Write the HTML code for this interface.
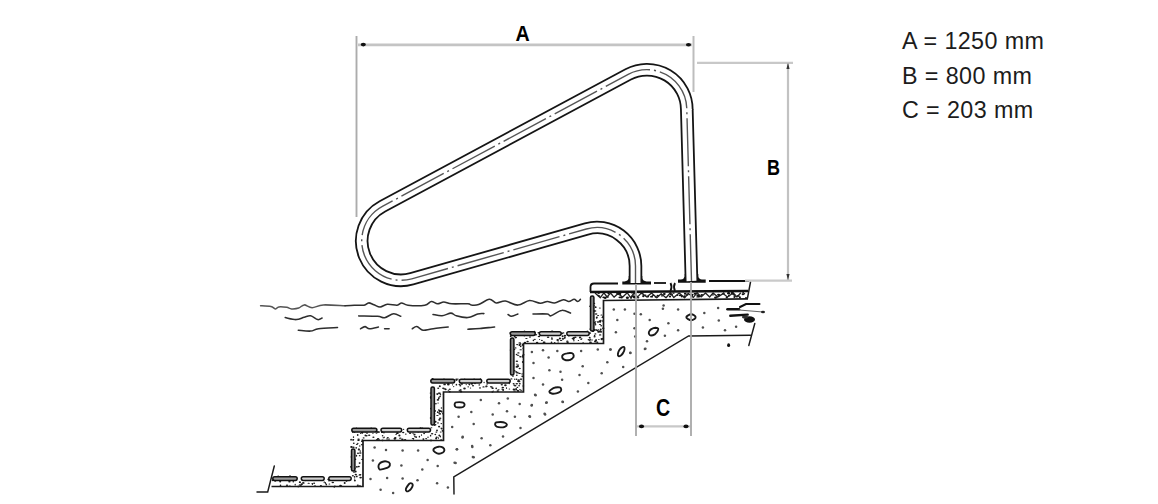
<!DOCTYPE html>
<html><head><meta charset="utf-8">
<style>
html,body{margin:0;padding:0;background:#fff;}
body{width:1158px;height:504px;overflow:hidden;position:relative;}
svg{position:absolute;left:0;top:0;}
.t{position:absolute;left:902px;font-family:"Liberation Sans",sans-serif;font-size:23.3px;color:#1c1c1c;white-space:nowrap;line-height:1;letter-spacing:0.4px;}
</style></head><body>
<svg width="1158" height="504" viewBox="0 0 1158 504">
<g fill="none" stroke="#2e2e2e" stroke-width="1.55" stroke-linecap="round" stroke-linejoin="round">
<path d="M260.6,305.7 C262.3,305.8 268.4,306.0 270.9,306.5 C273.4,307.0 274.3,308.8 275.6,308.9 C276.9,309.0 277.0,307.2 278.8,306.9 C280.6,306.6 284.6,307.0 286.7,307.3 C288.8,307.6 289.5,308.8 291.5,308.9 C293.5,309.0 296.6,308.8 298.7,308.1 C300.8,307.4 302.0,305.0 304.2,304.9 C306.4,304.8 308.9,307.7 312.1,307.7 C315.3,307.7 317.8,305.2 323.3,304.9 C328.8,304.6 341.4,305.6 345.0,305.7" stroke="#555"/>
<path d="M345.0,305.7 C346.6,305.6 351.1,305.3 354.3,305.2 C357.5,305.1 361.7,305.6 364.1,305.2 C366.5,304.8 367.0,303.0 368.6,302.9 C370.2,302.8 372.0,304.0 373.9,304.7 C375.8,305.4 378.0,307.1 380.2,307.0 C382.4,306.9 384.5,304.6 387.3,304.3 C390.1,304.0 394.7,305.4 397.1,305.2 C399.5,305.0 399.8,302.9 401.6,302.9 C403.4,302.9 404.0,304.8 407.9,305.2 C411.8,305.6 420.9,305.8 424.8,305.2 C428.7,304.6 429.2,301.7 431.3,301.5 C433.4,301.3 435.4,303.7 437.5,303.8 C439.6,303.9 441.4,302.0 443.8,302.0 C446.2,302.0 447.8,303.5 451.8,303.8 C455.8,304.1 464.6,303.6 467.9,303.8 C471.2,304.0 469.6,305.0 471.4,305.1 C473.2,305.2 475.6,305.6 478.6,304.6 C481.6,303.6 486.3,299.6 489.3,299.3 C492.3,299.0 493.7,302.6 496.4,302.9 C499.1,303.2 501.8,300.7 505.4,301.1 C509.0,301.5 513.9,305.2 517.9,305.1 C521.9,305.0 525.8,300.9 529.5,300.6 C533.2,300.3 537.2,303.2 540.2,303.3 C543.2,303.4 544.9,301.6 547.3,301.5 C549.7,301.4 551.8,303.2 554.5,302.9 C557.2,302.6 561.0,299.9 563.4,299.7 C565.8,299.5 567.0,301.6 568.8,301.5 C570.6,301.4 572.6,299.3 574.1,299.3 C575.6,299.3 576.7,301.5 577.7,301.5 C578.8,301.5 580.0,299.7 580.4,299.3"/>
<path d="M285.2,317.6 C287.1,317.9 293.1,319.7 296.3,319.6 C299.5,319.5 301.8,317.8 304.2,317.2 C306.6,316.6 308.4,315.4 310.6,315.8 C312.9,316.2 315.8,319.2 317.7,319.6 C319.6,320.0 321.4,318.3 322.1,318.0"/>
<path d="M358.8,315.9 C361.9,316.0 373.2,316.0 377.5,316.3 C381.8,316.6 381.9,318.1 384.6,317.7 C387.3,317.3 390.9,313.9 393.6,313.7 C396.3,313.5 399.5,315.9 400.7,316.3"/>
<path d="M433.0,314.5 C434.5,314.7 439.0,316.0 442.0,315.8 C445.0,315.6 448.5,313.1 450.9,313.1 C453.3,313.1 453.5,315.1 456.3,315.8 C459.1,316.6 464.3,317.9 467.9,317.6 C471.5,317.3 475.0,314.7 477.7,314.0 C480.4,313.3 482.9,313.7 483.9,313.6"/>
<path d="M508.0,314.5 C508.6,314.8 510.0,316.4 511.6,316.3 C513.2,316.2 516.9,314.4 517.9,314.0"/>
<path d="M533.0,314.0 C535.4,314.0 544.3,313.7 547.3,314.0 C550.3,314.3 548.5,316.4 550.9,315.8 C553.3,315.2 558.3,310.8 561.6,310.4 C564.9,309.9 569.0,312.7 570.5,313.1"/>
<path d="M298.3,330.3 C300.4,330.4 307.2,331.4 310.6,331.1 C314.0,330.8 314.0,329.3 318.5,328.7 C323.0,328.1 334.3,327.7 337.5,327.5"/>
<path d="M360.5,328.8 C361.2,328.4 363.5,326.6 365.0,326.6 C366.5,326.6 367.3,328.7 369.5,328.8 C371.7,328.9 376.9,327.4 378.4,327.1"/>
<path d="M384.6,328.8 C385.4,328.8 388.4,328.8 389.1,328.8"/>
<path d="M412.3,328.8 C413.1,328.4 415.0,326.4 416.8,326.6 C418.6,326.8 420.8,329.8 423.0,330.2 C425.2,330.6 427.4,329.7 430.0,329.3 C432.6,328.9 435.4,328.3 438.4,327.9 C441.4,327.5 446.6,327.1 448.2,327.0"/>
<path d="M467.9,329.2 C469.9,329.1 475.6,328.9 480.0,328.5 C484.4,328.1 492.2,327.2 494.6,327.0"/>
</g>
<polygon points="748.0,291.0 590.0,291.0 590.0,331.0 510.0,331.0 510.0,379.0 430.0,379.0 430.0,428.0 351.0,428.0 351.0,476.0 272.0,476.0 271.5,487.0 363.0,487.0 363.0,440.5 443.5,440.5 443.5,392.0 523.5,392.0 523.5,343.5 603.5,343.5 603.5,301.0 748.0,299.5" fill="#fff"/>
<g fill="#1a1a1a"><ellipse cx="593.5" cy="311.0" rx="1.3" ry="0.9"/><ellipse cx="493.3" cy="391.0" rx="0.7" ry="0.6"/><ellipse cx="282.0" cy="477.9" rx="1.0" ry="0.6"/><ellipse cx="394.6" cy="429.8" rx="1.3" ry="0.7"/><ellipse cx="356.2" cy="447.8" rx="0.8" ry="0.9"/><ellipse cx="438.1" cy="403.1" rx="0.7" ry="0.5"/><ellipse cx="439.8" cy="386.2" rx="1.0" ry="1.0"/><ellipse cx="461.0" cy="391.6" rx="1.3" ry="0.9"/><ellipse cx="516.9" cy="364.1" rx="0.7" ry="0.7"/><ellipse cx="301.7" cy="484.2" rx="1.2" ry="1.0"/><ellipse cx="522.3" cy="345.3" rx="0.7" ry="0.6"/><ellipse cx="517.4" cy="387.4" rx="0.9" ry="0.6"/><ellipse cx="443.1" cy="380.6" rx="0.8" ry="0.5"/><ellipse cx="514.7" cy="336.3" rx="0.9" ry="1.0"/><ellipse cx="413.0" cy="438.5" rx="1.3" ry="0.6"/><ellipse cx="461.7" cy="383.9" rx="1.3" ry="0.9"/><ellipse cx="432.3" cy="379.2" rx="1.1" ry="0.6"/><ellipse cx="511.8" cy="339.2" rx="1.3" ry="0.7"/><ellipse cx="359.5" cy="475.1" rx="1.2" ry="0.5"/><ellipse cx="396.1" cy="434.3" rx="0.8" ry="0.6"/><ellipse cx="513.0" cy="344.0" rx="1.2" ry="0.8"/><ellipse cx="581.8" cy="338.8" rx="0.6" ry="0.7"/><ellipse cx="594.6" cy="335.4" rx="0.8" ry="0.6"/><ellipse cx="518.0" cy="372.3" rx="0.7" ry="0.6"/><ellipse cx="484.1" cy="382.5" rx="0.6" ry="0.8"/><ellipse cx="511.4" cy="371.3" rx="1.3" ry="0.6"/><ellipse cx="512.4" cy="360.3" rx="0.6" ry="0.6"/><ellipse cx="351.5" cy="447.0" rx="0.7" ry="0.8"/><ellipse cx="320.9" cy="485.7" rx="1.1" ry="0.7"/><ellipse cx="552.0" cy="339.0" rx="1.1" ry="0.7"/><ellipse cx="431.0" cy="440.4" rx="1.1" ry="0.9"/><ellipse cx="405.8" cy="434.1" rx="0.9" ry="0.7"/><ellipse cx="436.4" cy="432.1" rx="1.0" ry="0.6"/><ellipse cx="319.6" cy="480.0" rx="0.7" ry="0.7"/><ellipse cx="473.0" cy="385.7" rx="1.1" ry="0.7"/><ellipse cx="371.2" cy="428.3" rx="0.9" ry="0.9"/><ellipse cx="329.4" cy="484.1" rx="0.9" ry="0.5"/><ellipse cx="378.1" cy="438.9" rx="1.3" ry="0.8"/><ellipse cx="439.4" cy="419.8" rx="1.2" ry="0.9"/><ellipse cx="276.5" cy="478.0" rx="1.1" ry="0.6"/><ellipse cx="351.1" cy="466.8" rx="1.1" ry="0.9"/><ellipse cx="365.1" cy="429.9" rx="1.0" ry="0.9"/><ellipse cx="514.6" cy="391.1" rx="1.3" ry="0.5"/><ellipse cx="445.7" cy="389.3" rx="1.0" ry="0.9"/><ellipse cx="511.3" cy="351.5" rx="1.0" ry="1.0"/><ellipse cx="595.8" cy="340.5" rx="1.1" ry="0.7"/><ellipse cx="578.4" cy="340.5" rx="0.7" ry="0.5"/><ellipse cx="329.0" cy="480.7" rx="0.7" ry="0.9"/><ellipse cx="419.4" cy="436.7" rx="0.7" ry="0.9"/><ellipse cx="299.9" cy="482.2" rx="1.1" ry="0.9"/><ellipse cx="357.2" cy="431.4" rx="0.9" ry="0.8"/><ellipse cx="287.0" cy="485.2" rx="1.2" ry="0.7"/><ellipse cx="328.2" cy="479.4" rx="0.8" ry="0.8"/><ellipse cx="594.2" cy="303.3" rx="1.1" ry="0.6"/><ellipse cx="325.5" cy="483.0" rx="0.6" ry="0.9"/><ellipse cx="589.8" cy="340.3" rx="1.0" ry="0.6"/><ellipse cx="356.9" cy="444.3" rx="1.1" ry="0.6"/><ellipse cx="359.7" cy="455.7" rx="0.9" ry="0.6"/><ellipse cx="424.1" cy="433.3" rx="0.9" ry="0.9"/><ellipse cx="456.4" cy="379.2" rx="1.2" ry="0.8"/><ellipse cx="519.2" cy="381.7" rx="1.3" ry="0.6"/><ellipse cx="367.0" cy="433.1" rx="0.9" ry="0.8"/><ellipse cx="439.1" cy="426.6" rx="1.1" ry="0.9"/><ellipse cx="486.7" cy="386.2" rx="1.1" ry="0.6"/><ellipse cx="509.3" cy="383.6" rx="0.7" ry="0.7"/><ellipse cx="441.6" cy="411.6" rx="0.9" ry="1.0"/><ellipse cx="417.3" cy="429.5" rx="0.6" ry="0.7"/><ellipse cx="589.7" cy="337.6" rx="1.0" ry="0.8"/><ellipse cx="439.3" cy="435.4" rx="0.9" ry="1.0"/><ellipse cx="511.8" cy="343.3" rx="0.9" ry="0.6"/><ellipse cx="561.1" cy="340.5" rx="1.3" ry="0.6"/><ellipse cx="355.5" cy="459.3" rx="0.8" ry="0.8"/><ellipse cx="443.4" cy="394.1" rx="0.8" ry="0.5"/><ellipse cx="571.0" cy="334.8" rx="0.7" ry="1.0"/><ellipse cx="575.5" cy="334.4" rx="1.2" ry="0.8"/><ellipse cx="516.8" cy="383.8" rx="1.3" ry="0.7"/><ellipse cx="365.0" cy="431.5" rx="0.9" ry="0.6"/><ellipse cx="351.4" cy="446.9" rx="1.2" ry="0.9"/><ellipse cx="599.2" cy="331.4" rx="0.9" ry="1.0"/><ellipse cx="516.5" cy="379.3" rx="0.9" ry="0.7"/><ellipse cx="351.1" cy="439.7" rx="0.9" ry="0.9"/><ellipse cx="409.3" cy="428.8" rx="0.9" ry="0.6"/><ellipse cx="358.0" cy="453.2" rx="1.1" ry="0.7"/><ellipse cx="487.1" cy="383.9" rx="1.0" ry="0.7"/><ellipse cx="580.1" cy="337.6" rx="1.2" ry="1.0"/><ellipse cx="426.9" cy="440.4" rx="1.1" ry="0.7"/><ellipse cx="430.6" cy="393.0" rx="1.0" ry="0.6"/><ellipse cx="535.9" cy="334.8" rx="1.3" ry="0.7"/><ellipse cx="324.2" cy="482.2" rx="0.6" ry="1.0"/><ellipse cx="596.7" cy="317.8" rx="0.9" ry="1.0"/><ellipse cx="599.9" cy="308.0" rx="1.0" ry="0.6"/><ellipse cx="280.5" cy="485.3" rx="0.8" ry="0.9"/><ellipse cx="356.4" cy="428.5" rx="0.7" ry="0.9"/><ellipse cx="439.7" cy="393.3" rx="1.3" ry="0.7"/><ellipse cx="520.0" cy="389.7" rx="0.8" ry="0.6"/><ellipse cx="353.2" cy="453.9" rx="0.9" ry="0.8"/><ellipse cx="519.4" cy="345.2" rx="0.9" ry="0.7"/><ellipse cx="491.6" cy="387.0" rx="1.2" ry="0.7"/><ellipse cx="430.5" cy="397.4" rx="0.6" ry="1.0"/><ellipse cx="514.7" cy="379.2" rx="0.6" ry="0.7"/><ellipse cx="492.4" cy="392.0" rx="1.0" ry="0.7"/><ellipse cx="410.1" cy="433.2" rx="1.2" ry="0.8"/><ellipse cx="555.4" cy="334.5" rx="1.3" ry="0.8"/><ellipse cx="598.2" cy="329.8" rx="0.6" ry="0.8"/><ellipse cx="594.8" cy="322.3" rx="1.2" ry="0.6"/><ellipse cx="389.0" cy="439.1" rx="0.7" ry="0.9"/><ellipse cx="587.3" cy="331.5" rx="0.7" ry="1.0"/><ellipse cx="512.7" cy="369.2" rx="0.7" ry="0.7"/><ellipse cx="278.2" cy="476.5" rx="1.0" ry="0.9"/><ellipse cx="518.1" cy="355.3" rx="1.3" ry="0.5"/><ellipse cx="387.8" cy="437.5" rx="1.1" ry="0.6"/><ellipse cx="433.0" cy="411.6" rx="1.2" ry="0.9"/><ellipse cx="354.6" cy="476.8" rx="0.9" ry="0.9"/><ellipse cx="523.5" cy="354.6" rx="1.1" ry="0.6"/><ellipse cx="359.6" cy="463.1" rx="1.0" ry="0.8"/><ellipse cx="363.6" cy="437.9" rx="1.0" ry="0.7"/><ellipse cx="365.3" cy="431.9" rx="0.7" ry="0.6"/><ellipse cx="360.2" cy="451.1" rx="0.7" ry="0.8"/><ellipse cx="581.1" cy="339.5" rx="0.9" ry="0.6"/><ellipse cx="519.1" cy="385.7" rx="0.9" ry="0.8"/><ellipse cx="356.8" cy="476.4" rx="0.9" ry="0.9"/><ellipse cx="586.4" cy="334.6" rx="0.7" ry="0.5"/><ellipse cx="333.0" cy="480.1" rx="0.9" ry="0.9"/><ellipse cx="443.3" cy="388.3" rx="1.3" ry="0.8"/><ellipse cx="362.4" cy="440.3" rx="1.0" ry="1.0"/><ellipse cx="277.0" cy="477.4" rx="0.8" ry="0.7"/><ellipse cx="567.3" cy="341.2" rx="1.2" ry="0.6"/><ellipse cx="434.7" cy="425.4" rx="0.6" ry="0.7"/><ellipse cx="328.5" cy="479.6" rx="0.7" ry="0.6"/><ellipse cx="543.0" cy="334.8" rx="1.1" ry="0.6"/><ellipse cx="579.9" cy="334.5" rx="1.3" ry="0.9"/><ellipse cx="464.7" cy="379.3" rx="0.7" ry="0.8"/><ellipse cx="440.7" cy="432.0" rx="0.9" ry="0.6"/><ellipse cx="593.4" cy="330.9" rx="0.9" ry="1.0"/><ellipse cx="551.9" cy="337.9" rx="0.6" ry="0.8"/><ellipse cx="353.6" cy="430.4" rx="0.6" ry="0.6"/><ellipse cx="397.5" cy="433.3" rx="1.3" ry="0.5"/><ellipse cx="431.0" cy="398.2" rx="0.8" ry="0.7"/><ellipse cx="362.2" cy="432.6" rx="1.2" ry="0.9"/><ellipse cx="421.5" cy="435.1" rx="0.6" ry="0.8"/><ellipse cx="519.7" cy="368.5" rx="1.1" ry="0.8"/><ellipse cx="589.9" cy="342.3" rx="0.8" ry="0.7"/><ellipse cx="448.3" cy="384.1" rx="1.3" ry="1.0"/><ellipse cx="315.9" cy="480.2" rx="0.6" ry="0.6"/><ellipse cx="353.8" cy="443.3" rx="0.9" ry="0.7"/><ellipse cx="394.8" cy="438.8" rx="1.3" ry="1.0"/><ellipse cx="353.4" cy="439.5" rx="0.9" ry="0.6"/><ellipse cx="518.3" cy="391.0" rx="0.9" ry="0.9"/><ellipse cx="588.5" cy="339.7" rx="0.9" ry="0.7"/><ellipse cx="377.1" cy="439.5" rx="1.2" ry="0.6"/><ellipse cx="428.0" cy="437.2" rx="0.7" ry="0.8"/><ellipse cx="339.3" cy="478.9" rx="1.3" ry="0.8"/><ellipse cx="517.5" cy="333.6" rx="1.1" ry="1.0"/><ellipse cx="440.1" cy="418.2" rx="1.3" ry="0.7"/><ellipse cx="437.9" cy="399.9" rx="1.3" ry="0.8"/><ellipse cx="438.4" cy="438.1" rx="0.6" ry="0.8"/><ellipse cx="595.7" cy="307.2" rx="0.9" ry="0.9"/><ellipse cx="595.1" cy="311.0" rx="1.3" ry="0.8"/><ellipse cx="492.6" cy="388.2" rx="1.1" ry="0.9"/><ellipse cx="552.1" cy="331.2" rx="1.3" ry="0.7"/><ellipse cx="442.9" cy="413.5" rx="0.8" ry="1.0"/><ellipse cx="534.9" cy="339.3" rx="1.0" ry="0.6"/><ellipse cx="356.5" cy="455.8" rx="0.7" ry="1.0"/><ellipse cx="516.9" cy="361.2" rx="1.3" ry="0.7"/><ellipse cx="514.6" cy="332.3" rx="1.1" ry="0.7"/><ellipse cx="590.9" cy="342.4" rx="0.9" ry="0.8"/><ellipse cx="437.0" cy="430.4" rx="0.9" ry="0.9"/><ellipse cx="551.5" cy="342.4" rx="0.8" ry="0.8"/><ellipse cx="511.4" cy="378.9" rx="1.1" ry="0.6"/><ellipse cx="514.7" cy="370.8" rx="0.8" ry="0.7"/><ellipse cx="480.5" cy="379.3" rx="0.8" ry="1.0"/><ellipse cx="568.9" cy="336.0" rx="0.6" ry="0.8"/><ellipse cx="326.3" cy="484.5" rx="0.8" ry="0.9"/><ellipse cx="447.0" cy="381.5" rx="1.0" ry="0.6"/><ellipse cx="563.4" cy="332.9" rx="1.0" ry="0.7"/><ellipse cx="543.6" cy="342.3" rx="0.9" ry="0.9"/><ellipse cx="444.6" cy="384.4" rx="1.3" ry="0.9"/><ellipse cx="405.1" cy="439.5" rx="1.2" ry="0.6"/><ellipse cx="436.7" cy="437.2" rx="1.1" ry="0.7"/><ellipse cx="365.4" cy="435.4" rx="0.9" ry="0.9"/><ellipse cx="527.6" cy="341.5" rx="1.2" ry="0.7"/><ellipse cx="448.3" cy="390.3" rx="0.6" ry="0.8"/><ellipse cx="600.7" cy="329.5" rx="1.0" ry="0.9"/><ellipse cx="305.7" cy="477.3" rx="1.0" ry="0.7"/><ellipse cx="520.4" cy="356.8" rx="1.3" ry="0.7"/><ellipse cx="518.7" cy="380.1" rx="1.3" ry="0.9"/><ellipse cx="414.8" cy="434.1" rx="0.6" ry="0.7"/><ellipse cx="562.9" cy="338.9" rx="1.3" ry="0.8"/><ellipse cx="564.9" cy="337.1" rx="0.9" ry="0.9"/><ellipse cx="360.6" cy="477.6" rx="1.3" ry="0.9"/><ellipse cx="541.9" cy="340.4" rx="0.9" ry="0.6"/><ellipse cx="362.2" cy="432.7" rx="1.0" ry="0.9"/><ellipse cx="483.5" cy="386.9" rx="1.2" ry="0.7"/><ellipse cx="572.3" cy="333.3" rx="1.3" ry="0.6"/><ellipse cx="379.0" cy="432.1" rx="1.0" ry="0.8"/><ellipse cx="517.1" cy="372.7" rx="0.9" ry="0.9"/><ellipse cx="420.6" cy="428.1" rx="1.1" ry="0.9"/><ellipse cx="466.2" cy="384.6" rx="0.6" ry="0.7"/><ellipse cx="516.6" cy="354.5" rx="0.9" ry="0.7"/><ellipse cx="352.9" cy="475.7" rx="1.0" ry="0.8"/><ellipse cx="539.6" cy="339.5" rx="0.6" ry="0.6"/><ellipse cx="583.1" cy="342.7" rx="0.6" ry="0.7"/><ellipse cx="539.0" cy="336.5" rx="1.3" ry="0.8"/><ellipse cx="381.8" cy="432.0" rx="0.8" ry="0.9"/><ellipse cx="590.1" cy="339.3" rx="1.0" ry="0.8"/><ellipse cx="353.5" cy="437.1" rx="0.7" ry="0.9"/><ellipse cx="360.5" cy="433.3" rx="0.6" ry="0.6"/><ellipse cx="523.0" cy="333.4" rx="1.2" ry="0.5"/><ellipse cx="422.4" cy="428.3" rx="0.9" ry="0.9"/><ellipse cx="298.2" cy="486.6" rx="0.7" ry="1.0"/><ellipse cx="414.9" cy="436.6" rx="0.8" ry="0.8"/><ellipse cx="474.1" cy="379.4" rx="0.9" ry="0.8"/><ellipse cx="459.5" cy="384.5" rx="1.0" ry="0.7"/><ellipse cx="357.7" cy="434.9" rx="0.8" ry="1.0"/><ellipse cx="538.3" cy="332.8" rx="0.8" ry="0.8"/><ellipse cx="442.5" cy="430.9" rx="0.9" ry="0.8"/><ellipse cx="431.4" cy="427.8" rx="1.0" ry="0.5"/><ellipse cx="312.4" cy="484.2" rx="0.6" ry="0.8"/><ellipse cx="514.6" cy="334.4" rx="1.3" ry="0.6"/><ellipse cx="516.1" cy="389.6" rx="1.0" ry="0.9"/><ellipse cx="599.7" cy="321.2" rx="1.1" ry="0.9"/><ellipse cx="460.8" cy="390.1" rx="0.8" ry="1.0"/><ellipse cx="416.1" cy="437.1" rx="1.0" ry="0.9"/><ellipse cx="432.1" cy="433.8" rx="1.2" ry="0.7"/><ellipse cx="522.9" cy="356.9" rx="1.1" ry="0.8"/><ellipse cx="564.9" cy="335.6" rx="1.2" ry="0.9"/><ellipse cx="400.3" cy="438.2" rx="1.3" ry="0.6"/><ellipse cx="437.6" cy="412.2" rx="0.7" ry="0.9"/><ellipse cx="354.9" cy="480.6" rx="1.0" ry="0.9"/><ellipse cx="383.9" cy="432.8" rx="1.1" ry="0.5"/><ellipse cx="602.3" cy="321.0" rx="0.8" ry="0.7"/><ellipse cx="389.2" cy="429.4" rx="1.3" ry="0.7"/><ellipse cx="572.7" cy="338.6" rx="1.2" ry="0.7"/><ellipse cx="521.0" cy="379.3" rx="0.9" ry="1.0"/><ellipse cx="303.3" cy="482.9" rx="1.3" ry="0.9"/><ellipse cx="517.2" cy="344.6" rx="1.2" ry="0.6"/><ellipse cx="369.2" cy="435.3" rx="1.2" ry="0.8"/><ellipse cx="526.0" cy="332.5" rx="0.8" ry="0.6"/><ellipse cx="376.5" cy="433.0" rx="1.0" ry="0.7"/><ellipse cx="437.1" cy="394.0" rx="1.0" ry="0.7"/><ellipse cx="423.4" cy="439.1" rx="1.0" ry="0.9"/><ellipse cx="288.2" cy="479.1" rx="1.0" ry="0.8"/><ellipse cx="456.4" cy="384.7" rx="0.8" ry="0.9"/><ellipse cx="446.8" cy="381.8" rx="1.0" ry="1.0"/><ellipse cx="575.6" cy="334.7" rx="1.0" ry="0.7"/><ellipse cx="525.0" cy="342.5" rx="1.2" ry="0.7"/><ellipse cx="513.9" cy="389.5" rx="1.3" ry="0.9"/><ellipse cx="545.7" cy="334.8" rx="0.8" ry="0.6"/><ellipse cx="519.9" cy="335.0" rx="1.1" ry="0.6"/><ellipse cx="289.8" cy="486.2" rx="1.3" ry="0.8"/><ellipse cx="441.7" cy="428.7" rx="1.0" ry="0.7"/><ellipse cx="456.5" cy="380.1" rx="1.1" ry="0.8"/><ellipse cx="444.6" cy="388.9" rx="1.3" ry="0.6"/><ellipse cx="307.8" cy="477.7" rx="0.9" ry="0.7"/><ellipse cx="515.7" cy="347.9" rx="0.8" ry="0.6"/><ellipse cx="332.8" cy="482.5" rx="1.3" ry="0.8"/><ellipse cx="360.2" cy="474.7" rx="1.2" ry="0.7"/><ellipse cx="375.5" cy="431.5" rx="0.7" ry="0.8"/><ellipse cx="600.1" cy="321.7" rx="1.1" ry="1.0"/><ellipse cx="358.5" cy="440.4" rx="1.2" ry="0.7"/><ellipse cx="431.1" cy="396.6" rx="1.1" ry="0.7"/><ellipse cx="457.9" cy="379.1" rx="0.8" ry="0.7"/><ellipse cx="276.7" cy="480.0" rx="0.8" ry="0.8"/><ellipse cx="449.9" cy="389.2" rx="1.0" ry="0.8"/><ellipse cx="351.3" cy="456.9" rx="0.7" ry="0.7"/><ellipse cx="288.9" cy="478.7" rx="0.8" ry="0.5"/><ellipse cx="436.1" cy="438.4" rx="1.0" ry="1.0"/><ellipse cx="498.5" cy="389.7" rx="1.2" ry="0.5"/><ellipse cx="514.4" cy="349.3" rx="1.0" ry="0.6"/><ellipse cx="513.2" cy="341.1" rx="0.8" ry="0.9"/><ellipse cx="448.3" cy="384.8" rx="1.3" ry="0.8"/><ellipse cx="595.8" cy="321.5" rx="0.6" ry="0.6"/><ellipse cx="594.6" cy="336.7" rx="1.1" ry="0.7"/><ellipse cx="426.1" cy="438.6" rx="1.0" ry="0.6"/><ellipse cx="357.8" cy="485.2" rx="1.1" ry="0.8"/><ellipse cx="460.3" cy="385.8" rx="1.0" ry="0.8"/><ellipse cx="596.2" cy="329.8" rx="0.7" ry="0.7"/><ellipse cx="293.2" cy="478.6" rx="0.8" ry="1.0"/><ellipse cx="603.2" cy="328.2" rx="1.3" ry="0.8"/><ellipse cx="354.0" cy="472.1" rx="1.2" ry="0.6"/><ellipse cx="334.9" cy="486.3" rx="1.0" ry="0.8"/><ellipse cx="470.5" cy="388.0" rx="0.7" ry="0.5"/><ellipse cx="432.7" cy="379.1" rx="1.0" ry="1.0"/><ellipse cx="438.8" cy="398.3" rx="0.9" ry="1.0"/><ellipse cx="505.4" cy="385.3" rx="1.3" ry="1.0"/><ellipse cx="518.6" cy="332.2" rx="1.3" ry="0.5"/><ellipse cx="479.3" cy="384.9" rx="0.9" ry="0.7"/><ellipse cx="413.1" cy="433.3" rx="0.8" ry="0.5"/><ellipse cx="522.5" cy="355.7" rx="0.6" ry="0.8"/><ellipse cx="520.5" cy="343.3" rx="1.0" ry="0.5"/><ellipse cx="288.3" cy="480.0" rx="1.3" ry="0.5"/><ellipse cx="434.2" cy="413.7" rx="1.2" ry="0.7"/><ellipse cx="344.7" cy="483.0" rx="1.0" ry="0.9"/><ellipse cx="314.1" cy="483.3" rx="1.0" ry="0.7"/><ellipse cx="431.9" cy="421.8" rx="0.7" ry="0.7"/><ellipse cx="475.0" cy="383.3" rx="0.8" ry="0.9"/><ellipse cx="497.8" cy="391.1" rx="1.2" ry="0.9"/><ellipse cx="444.0" cy="379.1" rx="0.9" ry="0.7"/><ellipse cx="299.9" cy="485.0" rx="1.2" ry="0.8"/><ellipse cx="441.4" cy="408.0" rx="0.7" ry="0.8"/><ellipse cx="275.2" cy="481.1" rx="1.1" ry="0.7"/><ellipse cx="590.5" cy="329.0" rx="0.6" ry="0.8"/><ellipse cx="600.4" cy="330.8" rx="0.9" ry="0.5"/><ellipse cx="435.4" cy="381.6" rx="0.9" ry="0.6"/><ellipse cx="523.0" cy="348.2" rx="0.7" ry="0.5"/><ellipse cx="305.2" cy="480.5" rx="0.7" ry="0.8"/><ellipse cx="330.7" cy="477.0" rx="1.1" ry="0.5"/><ellipse cx="598.5" cy="331.7" rx="1.3" ry="1.0"/><ellipse cx="603.0" cy="316.6" rx="0.9" ry="0.9"/><ellipse cx="437.4" cy="415.5" rx="1.3" ry="0.5"/><ellipse cx="387.6" cy="429.3" rx="1.2" ry="0.6"/><ellipse cx="597.0" cy="316.9" rx="0.8" ry="0.5"/><ellipse cx="440.4" cy="394.7" rx="0.8" ry="0.7"/><ellipse cx="425.5" cy="429.4" rx="1.0" ry="1.0"/><ellipse cx="428.0" cy="430.0" rx="0.8" ry="0.6"/><ellipse cx="399.4" cy="435.6" rx="1.1" ry="1.0"/><ellipse cx="379.2" cy="440.2" rx="0.9" ry="0.9"/><ellipse cx="598.0" cy="322.0" rx="0.9" ry="0.9"/><ellipse cx="435.9" cy="403.8" rx="0.9" ry="0.7"/><ellipse cx="595.4" cy="333.9" rx="1.0" ry="0.6"/><ellipse cx="433.7" cy="403.5" rx="1.3" ry="0.8"/><ellipse cx="439.9" cy="413.9" rx="1.3" ry="0.7"/><ellipse cx="544.5" cy="342.3" rx="1.1" ry="0.8"/><ellipse cx="402.4" cy="439.5" rx="1.2" ry="0.9"/><ellipse cx="438.8" cy="393.2" rx="1.0" ry="0.6"/><ellipse cx="480.0" cy="387.9" rx="1.1" ry="0.6"/><ellipse cx="366.5" cy="435.7" rx="1.2" ry="0.8"/><ellipse cx="513.1" cy="355.1" rx="0.6" ry="0.9"/><ellipse cx="515.2" cy="385.7" rx="1.3" ry="0.7"/><ellipse cx="337.7" cy="477.9" rx="1.2" ry="0.9"/><ellipse cx="382.6" cy="435.8" rx="0.8" ry="0.7"/><ellipse cx="430.7" cy="418.0" rx="0.9" ry="0.9"/><ellipse cx="521.3" cy="390.3" rx="1.1" ry="0.5"/><ellipse cx="434.9" cy="381.7" rx="1.2" ry="0.7"/><ellipse cx="520.7" cy="346.4" rx="0.8" ry="0.8"/><ellipse cx="373.4" cy="437.2" rx="1.1" ry="0.7"/><ellipse cx="595.3" cy="341.6" rx="1.3" ry="1.0"/><ellipse cx="384.2" cy="437.2" rx="0.6" ry="0.8"/><ellipse cx="358.9" cy="449.8" rx="1.2" ry="0.7"/><ellipse cx="472.2" cy="382.3" rx="0.7" ry="0.6"/><ellipse cx="533.4" cy="340.4" rx="0.8" ry="0.8"/><ellipse cx="353.4" cy="447.2" rx="1.3" ry="0.7"/><ellipse cx="438.8" cy="409.9" rx="0.8" ry="0.7"/><ellipse cx="362.2" cy="459.4" rx="1.0" ry="0.6"/><ellipse cx="362.9" cy="431.4" rx="1.1" ry="0.7"/><ellipse cx="431.9" cy="403.4" rx="1.1" ry="0.5"/><ellipse cx="432.4" cy="421.9" rx="1.1" ry="0.8"/><ellipse cx="534.9" cy="332.7" rx="0.8" ry="0.6"/><ellipse cx="595.2" cy="323.5" rx="1.0" ry="0.6"/><ellipse cx="432.3" cy="417.5" rx="0.9" ry="1.0"/><ellipse cx="474.4" cy="381.4" rx="0.8" ry="0.7"/><ellipse cx="403.2" cy="432.5" rx="1.2" ry="0.7"/><ellipse cx="459.3" cy="390.5" rx="0.6" ry="1.0"/><ellipse cx="600.4" cy="331.5" rx="0.8" ry="0.6"/><ellipse cx="441.3" cy="423.6" rx="0.8" ry="0.6"/><ellipse cx="387.2" cy="438.9" rx="1.1" ry="0.7"/><ellipse cx="290.0" cy="476.2" rx="0.9" ry="0.9"/><ellipse cx="413.4" cy="438.8" rx="0.7" ry="0.9"/><ellipse cx="511.8" cy="374.5" rx="1.1" ry="0.8"/><ellipse cx="516.8" cy="366.9" rx="1.3" ry="0.8"/><ellipse cx="433.8" cy="421.9" rx="0.7" ry="0.6"/><ellipse cx="435.3" cy="424.8" rx="1.2" ry="0.7"/><ellipse cx="502.1" cy="382.3" rx="1.0" ry="0.6"/><ellipse cx="354.7" cy="432.2" rx="0.6" ry="0.5"/><ellipse cx="594.5" cy="330.1" rx="1.3" ry="1.0"/><ellipse cx="595.5" cy="324.8" rx="0.9" ry="0.8"/><ellipse cx="592.6" cy="331.0" rx="0.9" ry="1.0"/><ellipse cx="437.6" cy="394.2" rx="0.7" ry="0.7"/><ellipse cx="524.0" cy="334.0" rx="0.8" ry="0.6"/><ellipse cx="598.1" cy="315.5" rx="1.1" ry="0.6"/><ellipse cx="397.2" cy="433.2" rx="1.0" ry="0.9"/><ellipse cx="357.8" cy="443.4" rx="0.7" ry="0.7"/><ellipse cx="590.3" cy="306.3" rx="1.3" ry="0.8"/><ellipse cx="353.1" cy="440.1" rx="0.8" ry="1.0"/><ellipse cx="524.3" cy="335.8" rx="0.7" ry="0.6"/><ellipse cx="358.8" cy="466.6" rx="1.0" ry="0.8"/><ellipse cx="431.4" cy="417.6" rx="0.8" ry="0.9"/><ellipse cx="439.0" cy="412.8" rx="0.8" ry="0.9"/><ellipse cx="597.3" cy="342.2" rx="1.1" ry="0.7"/><ellipse cx="524.5" cy="331.0" rx="0.8" ry="0.5"/><ellipse cx="510.4" cy="350.1" rx="0.7" ry="0.7"/><ellipse cx="501.8" cy="384.8" rx="1.2" ry="0.8"/><ellipse cx="519.7" cy="342.9" rx="1.3" ry="0.7"/><ellipse cx="500.6" cy="379.9" rx="1.2" ry="0.7"/><ellipse cx="561.9" cy="333.4" rx="1.0" ry="0.9"/><ellipse cx="572.0" cy="332.7" rx="0.6" ry="0.9"/><ellipse cx="516.8" cy="375.3" rx="0.9" ry="0.7"/><ellipse cx="515.8" cy="337.6" rx="1.3" ry="0.8"/><ellipse cx="453.7" cy="386.6" rx="0.6" ry="0.7"/><ellipse cx="452.5" cy="384.8" rx="0.6" ry="0.6"/><ellipse cx="564.7" cy="338.1" rx="1.0" ry="0.8"/><ellipse cx="356.9" cy="466.8" rx="1.0" ry="0.9"/><ellipse cx="510.3" cy="333.0" rx="0.8" ry="0.9"/><ellipse cx="592.0" cy="340.0" rx="0.7" ry="0.7"/><ellipse cx="308.7" cy="483.3" rx="1.2" ry="0.5"/><ellipse cx="534.6" cy="331.7" rx="0.8" ry="1.0"/><ellipse cx="559.9" cy="338.5" rx="1.1" ry="1.0"/><ellipse cx="355.6" cy="471.5" rx="1.1" ry="0.9"/><ellipse cx="490.8" cy="386.6" rx="0.6" ry="0.6"/><ellipse cx="509.4" cy="389.1" rx="0.8" ry="0.5"/><ellipse cx="597.2" cy="330.4" rx="1.1" ry="0.7"/><ellipse cx="289.4" cy="481.8" rx="1.3" ry="0.7"/><ellipse cx="589.8" cy="333.1" rx="1.3" ry="0.9"/><ellipse cx="530.0" cy="337.1" rx="0.8" ry="0.8"/><ellipse cx="518.1" cy="365.0" rx="0.7" ry="0.7"/><ellipse cx="435.3" cy="434.5" rx="0.9" ry="0.8"/><ellipse cx="397.7" cy="431.9" rx="0.9" ry="0.7"/><ellipse cx="435.5" cy="421.8" rx="1.1" ry="1.0"/><ellipse cx="537.1" cy="342.4" rx="1.3" ry="0.6"/><ellipse cx="590.2" cy="329.1" rx="1.0" ry="0.6"/><ellipse cx="596.1" cy="314.0" rx="1.3" ry="0.8"/><ellipse cx="438.2" cy="388.2" rx="1.0" ry="0.8"/><ellipse cx="562.6" cy="336.3" rx="1.0" ry="1.0"/><ellipse cx="438.0" cy="422.9" rx="0.9" ry="0.7"/><ellipse cx="554.7" cy="343.1" rx="0.8" ry="1.0"/><ellipse cx="523.4" cy="355.5" rx="0.9" ry="0.6"/><ellipse cx="481.1" cy="382.0" rx="0.6" ry="0.8"/><ellipse cx="601.8" cy="339.6" rx="1.2" ry="0.6"/><ellipse cx="358.6" cy="439.3" rx="1.3" ry="0.7"/><ellipse cx="286.8" cy="480.2" rx="1.1" ry="0.8"/><ellipse cx="471.9" cy="383.7" rx="1.2" ry="1.0"/><ellipse cx="354.8" cy="468.1" rx="1.3" ry="0.6"/><ellipse cx="293.3" cy="481.8" rx="0.8" ry="0.8"/><ellipse cx="573.5" cy="339.3" rx="0.9" ry="0.7"/><ellipse cx="600.7" cy="320.3" rx="0.9" ry="0.6"/><ellipse cx="395.3" cy="437.9" rx="1.2" ry="0.9"/><ellipse cx="382.5" cy="440.4" rx="1.2" ry="0.8"/><ellipse cx="372.9" cy="433.2" rx="0.7" ry="0.5"/><ellipse cx="518.2" cy="381.2" rx="1.2" ry="0.8"/><ellipse cx="510.7" cy="336.2" rx="0.9" ry="0.9"/><ellipse cx="570.8" cy="335.5" rx="1.1" ry="0.6"/><ellipse cx="300.9" cy="485.6" rx="0.9" ry="0.6"/><ellipse cx="502.8" cy="387.5" rx="1.3" ry="0.7"/><ellipse cx="601.2" cy="325.7" rx="0.9" ry="0.8"/><ellipse cx="573.8" cy="337.9" rx="1.3" ry="1.0"/><ellipse cx="573.9" cy="340.5" rx="0.6" ry="0.9"/><ellipse cx="601.7" cy="338.7" rx="1.2" ry="0.8"/><ellipse cx="520.5" cy="333.8" rx="0.9" ry="0.7"/><ellipse cx="439.3" cy="397.0" rx="0.9" ry="0.5"/><ellipse cx="522.6" cy="362.0" rx="0.7" ry="0.9"/><ellipse cx="548.1" cy="337.2" rx="1.3" ry="0.8"/><ellipse cx="418.2" cy="431.6" rx="0.9" ry="0.9"/><ellipse cx="557.7" cy="340.0" rx="1.3" ry="0.9"/><ellipse cx="562.2" cy="333.3" rx="0.7" ry="0.6"/><ellipse cx="280.3" cy="479.3" rx="0.8" ry="0.7"/><ellipse cx="601.5" cy="315.0" rx="1.1" ry="0.6"/><ellipse cx="441.2" cy="428.1" rx="0.7" ry="0.7"/><ellipse cx="440.4" cy="436.5" rx="0.6" ry="0.9"/><ellipse cx="382.1" cy="432.3" rx="1.0" ry="0.6"/><ellipse cx="312.3" cy="483.6" rx="0.9" ry="0.7"/><ellipse cx="362.0" cy="441.4" rx="1.0" ry="0.6"/><ellipse cx="531.0" cy="332.1" rx="1.3" ry="0.7"/><ellipse cx="520.7" cy="349.8" rx="1.3" ry="0.5"/><ellipse cx="519.8" cy="383.8" rx="1.0" ry="0.8"/><ellipse cx="359.8" cy="446.0" rx="0.7" ry="0.7"/><ellipse cx="519.5" cy="373.4" rx="1.3" ry="0.7"/><ellipse cx="464.5" cy="388.5" rx="1.3" ry="0.9"/><ellipse cx="435.8" cy="382.4" rx="0.9" ry="0.6"/><ellipse cx="598.9" cy="339.5" rx="0.7" ry="0.5"/><ellipse cx="522.7" cy="344.5" rx="1.0" ry="0.8"/><ellipse cx="603.0" cy="338.5" rx="1.0" ry="0.8"/><ellipse cx="469.4" cy="384.6" rx="1.0" ry="0.8"/><ellipse cx="522.5" cy="376.3" rx="1.3" ry="0.7"/><ellipse cx="512.9" cy="376.1" rx="1.1" ry="0.6"/><ellipse cx="592.5" cy="325.1" rx="1.2" ry="0.7"/><ellipse cx="440.1" cy="396.5" rx="0.8" ry="0.7"/><ellipse cx="403.6" cy="429.3" rx="0.7" ry="0.6"/><ellipse cx="435.0" cy="410.9" rx="1.0" ry="0.9"/><ellipse cx="295.2" cy="484.7" rx="0.6" ry="0.9"/><ellipse cx="359.8" cy="485.9" rx="1.3" ry="0.7"/><ellipse cx="519.9" cy="344.8" rx="1.2" ry="0.7"/><ellipse cx="364.4" cy="428.9" rx="1.2" ry="0.9"/><ellipse cx="569.8" cy="333.9" rx="0.9" ry="0.7"/><ellipse cx="272.9" cy="480.2" rx="1.1" ry="1.0"/><ellipse cx="449.6" cy="382.5" rx="1.0" ry="0.6"/><ellipse cx="526.4" cy="338.4" rx="1.2" ry="0.5"/><ellipse cx="441.2" cy="439.9" rx="1.2" ry="0.7"/><ellipse cx="363.0" cy="429.1" rx="0.6" ry="0.8"/><ellipse cx="334.3" cy="486.9" rx="0.8" ry="0.8"/><ellipse cx="600.1" cy="334.9" rx="1.3" ry="0.7"/><ellipse cx="516.1" cy="371.8" rx="0.9" ry="0.9"/><ellipse cx="361.9" cy="444.7" rx="1.1" ry="0.6"/><ellipse cx="425.4" cy="432.0" rx="0.7" ry="0.7"/><ellipse cx="514.3" cy="385.1" rx="1.2" ry="0.7"/><ellipse cx="360.3" cy="453.0" rx="1.3" ry="0.7"/><ellipse cx="503.1" cy="390.0" rx="1.0" ry="0.9"/><ellipse cx="358.9" cy="448.9" rx="0.8" ry="0.7"/><ellipse cx="354.0" cy="431.5" rx="1.0" ry="1.0"/><ellipse cx="468.2" cy="386.8" rx="0.8" ry="0.6"/><ellipse cx="513.6" cy="383.7" rx="1.0" ry="0.8"/><ellipse cx="486.1" cy="386.5" rx="0.8" ry="1.0"/><ellipse cx="430.9" cy="408.6" rx="0.9" ry="0.8"/><ellipse cx="518.4" cy="352.9" rx="1.2" ry="0.7"/><ellipse cx="440.0" cy="413.7" rx="0.7" ry="0.7"/><ellipse cx="601.0" cy="331.8" rx="1.2" ry="0.9"/><ellipse cx="600.0" cy="324.4" rx="1.2" ry="0.5"/><ellipse cx="275.5" cy="478.6" rx="0.9" ry="0.9"/><ellipse cx="602.6" cy="317.5" rx="1.3" ry="0.5"/><ellipse cx="567.6" cy="342.3" rx="1.2" ry="0.9"/><ellipse cx="517.6" cy="390.7" rx="0.7" ry="1.0"/><ellipse cx="354.6" cy="479.1" rx="0.7" ry="0.5"/><ellipse cx="454.0" cy="381.6" rx="1.1" ry="0.8"/><ellipse cx="377.8" cy="432.0" rx="1.1" ry="0.9"/><ellipse cx="556.5" cy="332.6" rx="1.1" ry="0.5"/><ellipse cx="414.4" cy="434.7" rx="1.2" ry="0.7"/><ellipse cx="522.1" cy="373.9" rx="0.8" ry="0.7"/><ellipse cx="409.3" cy="428.6" rx="0.9" ry="0.6"/><ellipse cx="506.5" cy="388.1" rx="0.6" ry="0.9"/><ellipse cx="341.0" cy="486.0" rx="1.3" ry="0.8"/><ellipse cx="340.4" cy="485.8" rx="1.2" ry="1.0"/><ellipse cx="594.1" cy="305.7" rx="0.8" ry="0.5"/><ellipse cx="354.1" cy="450.9" rx="1.0" ry="0.7"/><ellipse cx="516.1" cy="388.6" rx="0.9" ry="0.5"/><ellipse cx="492.3" cy="380.9" rx="1.0" ry="0.8"/><ellipse cx="352.7" cy="432.1" rx="0.6" ry="0.9"/><ellipse cx="596.1" cy="340.1" rx="0.8" ry="1.0"/><ellipse cx="315.0" cy="485.5" rx="0.7" ry="0.6"/><ellipse cx="502.5" cy="389.1" rx="1.3" ry="0.7"/><ellipse cx="451.9" cy="382.2" rx="0.9" ry="0.9"/><ellipse cx="517.7" cy="366.2" rx="1.3" ry="1.0"/><ellipse cx="523.3" cy="386.0" rx="0.9" ry="0.8"/><ellipse cx="383.5" cy="437.7" rx="1.0" ry="0.5"/><ellipse cx="346.5" cy="481.2" rx="0.8" ry="0.6"/><ellipse cx="440.2" cy="411.2" rx="1.3" ry="0.9"/><ellipse cx="444.6" cy="381.7" rx="0.7" ry="1.0"/><ellipse cx="361.1" cy="430.5" rx="0.9" ry="0.5"/><ellipse cx="423.7" cy="431.3" rx="1.1" ry="0.7"/><ellipse cx="280.2" cy="481.4" rx="1.0" ry="1.0"/><ellipse cx="355.8" cy="474.6" rx="1.2" ry="0.8"/><ellipse cx="496.2" cy="388.4" rx="0.8" ry="0.8"/><ellipse cx="409.6" cy="430.3" rx="1.1" ry="0.6"/><ellipse cx="345.7" cy="480.0" rx="1.0" ry="0.6"/><ellipse cx="373.8" cy="429.6" rx="1.3" ry="0.6"/><ellipse cx="430.6" cy="435.7" rx="0.7" ry="0.9"/><ellipse cx="575.3" cy="337.3" rx="1.3" ry="0.8"/><ellipse cx="431.8" cy="397.4" rx="0.7" ry="0.7"/><ellipse cx="439.5" cy="410.5" rx="0.8" ry="0.8"/><ellipse cx="439.6" cy="410.9" rx="1.2" ry="0.7"/><ellipse cx="449.6" cy="391.7" rx="1.0" ry="0.9"/><ellipse cx="558.1" cy="342.0" rx="0.6" ry="0.7"/></g>
<polyline points="748.0,298.8 603.5,300.5 603.5,343.5 523.5,343.5 523.5,392.0 443.5,392.0 443.5,440.5 363.0,440.5 363.0,486.5 271.5,486.5" fill="none" stroke="#1a1a1a" stroke-width="1.7"/>
<ellipse cx="698.1" cy="295.4" rx="1.62" ry="1.20" fill="#111"/>
<ellipse cx="742.9" cy="294.3" rx="1.25" ry="0.95" fill="#111"/>
<ellipse cx="627.4" cy="297.7" rx="1.57" ry="1.18" fill="#111"/>
<ellipse cx="653.1" cy="295.3" rx="1.32" ry="0.66" fill="#111"/>
<ellipse cx="633.5" cy="296.1" rx="1.73" ry="0.64" fill="#111"/>
<ellipse cx="645.3" cy="295.3" rx="1.21" ry="0.76" fill="#111"/>
<ellipse cx="620.3" cy="294.2" rx="0.86" ry="0.77" fill="#111"/>
<ellipse cx="603.7" cy="297.3" rx="1.45" ry="0.90" fill="#111"/>
<ellipse cx="643.3" cy="296.2" rx="1.14" ry="1.10" fill="#111"/>
<ellipse cx="723.4" cy="293.8" rx="1.32" ry="0.82" fill="#111"/>
<ellipse cx="744.4" cy="293.8" rx="0.84" ry="0.73" fill="#111"/>
<ellipse cx="738.1" cy="295.9" rx="1.53" ry="0.89" fill="#111"/>
<ellipse cx="701.8" cy="294.9" rx="1.33" ry="0.99" fill="#111"/>
<ellipse cx="715.5" cy="297.7" rx="1.44" ry="1.10" fill="#111"/>
<ellipse cx="618.7" cy="293.6" rx="1.71" ry="0.64" fill="#111"/>
<ellipse cx="664.3" cy="293.8" rx="1.35" ry="0.78" fill="#111"/>
<ellipse cx="732.5" cy="293.1" rx="1.63" ry="1.17" fill="#111"/>
<ellipse cx="656.0" cy="296.9" rx="1.42" ry="0.74" fill="#111"/>
<ellipse cx="673.5" cy="293.2" rx="1.11" ry="0.64" fill="#111"/>
<ellipse cx="621.6" cy="297.4" rx="1.31" ry="1.12" fill="#111"/>
<ellipse cx="664.3" cy="294.2" rx="1.29" ry="0.82" fill="#111"/>
<ellipse cx="743.2" cy="292.7" rx="1.00" ry="0.73" fill="#111"/>
<ellipse cx="671.8" cy="294.6" rx="0.92" ry="0.97" fill="#111"/>
<ellipse cx="729.0" cy="295.5" rx="1.14" ry="0.90" fill="#111"/>
<ellipse cx="631.7" cy="292.7" rx="1.10" ry="0.83" fill="#111"/>
<ellipse cx="712.8" cy="294.8" rx="1.67" ry="0.67" fill="#111"/>
<ellipse cx="642.0" cy="293.5" rx="1.59" ry="0.70" fill="#111"/>
<ellipse cx="680.1" cy="295.3" rx="1.53" ry="0.92" fill="#111"/>
<ellipse cx="638.1" cy="297.7" rx="1.28" ry="0.70" fill="#111"/>
<ellipse cx="677.3" cy="295.3" rx="0.90" ry="0.62" fill="#111"/>
<ellipse cx="670.0" cy="296.4" rx="1.16" ry="0.99" fill="#111"/>
<ellipse cx="633.6" cy="296.5" rx="1.59" ry="0.92" fill="#111"/>
<ellipse cx="734.7" cy="294.7" rx="1.18" ry="0.61" fill="#111"/>
<ellipse cx="651.6" cy="296.7" rx="1.57" ry="0.86" fill="#111"/>
<ellipse cx="662.0" cy="295.8" rx="0.85" ry="0.91" fill="#111"/>
<ellipse cx="723.6" cy="293.2" rx="0.88" ry="0.90" fill="#111"/>
<ellipse cx="687.4" cy="294.6" rx="1.22" ry="1.16" fill="#111"/>
<ellipse cx="746.0" cy="297.9" rx="0.97" ry="0.79" fill="#111"/>
<ellipse cx="634.5" cy="297.5" rx="1.42" ry="0.93" fill="#111"/>
<ellipse cx="607.3" cy="296.9" rx="1.78" ry="0.74" fill="#111"/>
<ellipse cx="638.5" cy="292.6" rx="1.64" ry="0.74" fill="#111"/>
<ellipse cx="619.9" cy="297.3" rx="1.47" ry="0.87" fill="#111"/>
<ellipse cx="631.1" cy="297.8" rx="1.14" ry="1.04" fill="#111"/>
<ellipse cx="691.9" cy="294.6" rx="1.77" ry="0.85" fill="#111"/>
<ellipse cx="633.5" cy="293.7" rx="0.84" ry="0.87" fill="#111"/>
<ellipse cx="736.4" cy="296.5" rx="1.15" ry="0.78" fill="#111"/>
<ellipse cx="717.0" cy="297.0" rx="1.11" ry="0.75" fill="#111"/>
<ellipse cx="634.2" cy="297.0" rx="1.28" ry="1.00" fill="#111"/>
<ellipse cx="697.6" cy="296.9" rx="1.34" ry="0.61" fill="#111"/>
<ellipse cx="695.3" cy="293.8" rx="1.65" ry="0.95" fill="#111"/>
<ellipse cx="699.2" cy="296.3" rx="1.65" ry="1.09" fill="#111"/>
<ellipse cx="734.4" cy="297.0" rx="1.05" ry="1.05" fill="#111"/>
<ellipse cx="647.8" cy="296.6" rx="1.36" ry="0.94" fill="#111"/>
<ellipse cx="608.3" cy="293.5" rx="0.93" ry="0.66" fill="#111"/>
<ellipse cx="726.8" cy="297.5" rx="1.15" ry="0.87" fill="#111"/>
<ellipse cx="681.8" cy="296.3" rx="0.89" ry="1.18" fill="#111"/>
<ellipse cx="598.7" cy="293.1" rx="1.52" ry="0.80" fill="#111"/>
<ellipse cx="691.8" cy="295.6" rx="1.28" ry="0.91" fill="#111"/>
<ellipse cx="718.6" cy="294.7" rx="1.57" ry="0.95" fill="#111"/>
<ellipse cx="729.4" cy="293.1" rx="1.10" ry="0.61" fill="#111"/>
<ellipse cx="598.4" cy="295.5" rx="1.26" ry="0.71" fill="#111"/>
<ellipse cx="617.8" cy="293.6" rx="1.69" ry="0.94" fill="#111"/>
<ellipse cx="657.8" cy="295.6" rx="1.23" ry="0.90" fill="#111"/>
<ellipse cx="605.2" cy="297.9" rx="1.38" ry="1.03" fill="#111"/>
<ellipse cx="731.7" cy="293.1" rx="0.86" ry="0.73" fill="#111"/>
<ellipse cx="620.1" cy="293.6" rx="1.19" ry="1.10" fill="#111"/>
<ellipse cx="684.6" cy="296.5" rx="1.30" ry="1.16" fill="#111"/>
<ellipse cx="728.5" cy="293.2" rx="1.47" ry="1.17" fill="#111"/>
<ellipse cx="719.3" cy="295.5" rx="1.20" ry="0.65" fill="#111"/>
<ellipse cx="635.6" cy="293.0" rx="0.87" ry="1.07" fill="#111"/>
<ellipse cx="671.1" cy="294.5" rx="1.51" ry="0.79" fill="#111"/>
<ellipse cx="733.9" cy="293.8" rx="1.00" ry="0.73" fill="#111"/>
<ellipse cx="739.9" cy="297.4" rx="1.00" ry="1.16" fill="#111"/>
<ellipse cx="599.2" cy="296.3" rx="1.26" ry="0.74" fill="#111"/>
<ellipse cx="685.2" cy="293.7" rx="1.33" ry="1.05" fill="#111"/>
<polyline points="595.0,293.1 600.3,297.7 603.9,292.9 607.1,297.0 610.5,293.0 614.0,297.2 617.8,293.7 622.8,297.0 627.2,292.7 630.6,297.6 634.0,293.0 637.7,296.9 641.4,292.9 646.8,296.9 651.5,292.9 656.8,297.7 661.2,293.7 666.0,297.7 670.4,292.7 673.8,297.6 679.2,293.1 684.5,297.7 688.4,293.5 693.4,297.4 697.1,292.7 701.1,296.9 705.5,293.0 709.6,297.0 713.1,292.9 717.9,296.9 723.1,293.6 727.4,297.0 732.1,293.7 737.1,296.9 740.8,292.7" fill="none" stroke="#222" stroke-width="1.3" stroke-linejoin="round"/>
<rect x="510.3" y="331.8" width="24.9" height="3.6" rx="1.8" fill="#9a9a9a" stroke="#111" stroke-width="1.5"/>
<rect x="539.3" y="331.8" width="21.9" height="3.6" rx="1.8" fill="#d0d0d0" stroke="#111" stroke-width="1.5"/>
<rect x="566.8" y="331.8" width="22.4" height="3.6" rx="1.8" fill="#d0d0d0" stroke="#111" stroke-width="1.5"/>
<rect x="430.8" y="379.3" width="23.9" height="3.6" rx="1.8" fill="#9a9a9a" stroke="#111" stroke-width="1.5"/>
<rect x="459.3" y="379.3" width="22.4" height="3.6" rx="1.8" fill="#d0d0d0" stroke="#111" stroke-width="1.5"/>
<rect x="486.8" y="379.3" width="23.4" height="3.6" rx="1.8" fill="#d0d0d0" stroke="#111" stroke-width="1.5"/>
<rect x="351.8" y="428.3" width="25.1" height="3.6" rx="1.8" fill="#9a9a9a" stroke="#111" stroke-width="1.5"/>
<rect x="381.0" y="428.3" width="20.7" height="3.6" rx="1.8" fill="#d0d0d0" stroke="#111" stroke-width="1.5"/>
<rect x="407.3" y="428.3" width="23.2" height="3.6" rx="1.8" fill="#d0d0d0" stroke="#111" stroke-width="1.5"/>
<rect x="272.8" y="476.8" width="24.4" height="3.6" rx="1.8" fill="#9a9a9a" stroke="#111" stroke-width="1.5"/>
<rect x="301.3" y="476.8" width="22.9" height="3.6" rx="1.8" fill="#d0d0d0" stroke="#111" stroke-width="1.5"/>
<rect x="328.8" y="476.8" width="22.4" height="3.6" rx="1.8" fill="#d0d0d0" stroke="#111" stroke-width="1.5"/>
<rect x="590.5" y="296.0" width="3.4" height="35.0" rx="1.5" fill="#888" stroke="#111" stroke-width="1.5"/>
<rect x="510.5" y="338.0" width="3.4" height="37.0" rx="1.5" fill="#888" stroke="#111" stroke-width="1.5"/>
<rect x="431.0" y="387.0" width="3.4" height="38.0" rx="1.5" fill="#888" stroke="#111" stroke-width="1.5"/>
<rect x="351.5" y="449.0" width="3.4" height="22.0" rx="1.5" fill="#888" stroke="#111" stroke-width="1.5"/>
<g fill="none" stroke="#111" stroke-width="1.8">
<path d="M618,283.5 H594 Q590.5,283.5 590.5,287 V292"/>
<path d="M654,283 H666"/>
<path d="M670.5,283 q2,4 0,8 M675,283 q-2,4 0,8"/>
<path d="M709,281 H749"/>
</g>
<path d="M590,292 L748,291" stroke="#111" stroke-width="2.4"/>
<path d="M622.3,284.6 H651 V281.4 H646.5 Q643,281 642.3,278.2 V276 H628.7 V278.2 Q628,281 624.5,281.4 H622.3 Z" fill="#111"/>
<path d="M678,282.8 H705.7 V279.5 H702 Q698.8,279.2 698.3,276.5 V274 H684.7 V276.5 Q684,279.2 681,279.5 H678 Z" fill="#111"/>
<g fill="none" stroke="#1a1a1a" stroke-width="1.45" stroke-linecap="round">
<path d="M454,494 L453.8,476.8 L688.6,336 L750.5,335.2"/>
<path d="M750.5,282 L747.5,298"/>
<path d="M754.8,323.5 L748.8,345.5"/>
<path d="M274.3,466 L267.7,492 H257"/>
</g>
<g stroke="#111" stroke-linecap="round" fill="none">
<path d="M740,307 L746,304 H759.5" stroke-width="2"/>
<path d="M727.5,309.2 H739" stroke-width="2.6"/>
<path d="M739,310 L763,312" stroke-width="1.2" stroke="#666"/>
<path d="M730.3,315.8 L747.7,314.6" stroke-width="2.4"/>
</g>
<ellipse cx="763" cy="312" rx="2" ry="1.2" fill="#222"/>
<ellipse cx="749.5" cy="319.5" rx="5.5" ry="3.2" fill="#111"/>
<ellipse cx="745" cy="317" rx="3" ry="1.5" fill="#333"/>
<ellipse cx="728.6" cy="345.2" rx="1.5" ry="1.9" fill="#111"/>
<path d="M4.4,0.0 C4.5,0.6 4.0,1.5 3.2,2.0 C2.5,2.5 1.1,3.1 0.0,3.1 C-1.1,3.1 -2.3,2.5 -3.1,2.0 C-4.0,1.4 -5.0,0.6 -4.9,0.0 C-4.9,-0.6 -3.7,-1.3 -2.9,-1.8 C-2.1,-2.3 -1.0,-2.9 -0.0,-2.9 C1.0,-2.9 2.2,-2.3 2.9,-1.8 C3.6,-1.3 4.4,-0.6 4.4,0.0Z" transform="translate(691.2 317.1) rotate(0)" fill="#fff" stroke="#1a1a1a" stroke-width="1.9"/>
<path d="M5.8,0.0 C5.7,0.7 4.6,1.4 3.6,2.0 C2.6,2.5 1.3,3.1 0.0,3.2 C-1.3,3.2 -3.2,2.7 -4.0,2.2 C-4.8,1.7 -4.9,0.7 -4.8,0.0 C-4.8,-0.7 -4.4,-1.4 -3.6,-2.0 C-2.8,-2.5 -1.3,-3.1 -0.0,-3.1 C1.3,-3.2 3.0,-2.7 4.0,-2.2 C4.9,-1.6 5.9,-0.7 5.8,0.0Z" transform="translate(653.2 331.6) rotate(-30)" fill="#fff" stroke="#1a1a1a" stroke-width="1.9"/>
<path d="M5.3,0.0 C5.2,0.5 4.3,1.1 3.4,1.5 C2.6,1.9 1.2,2.1 0.0,2.1 C-1.2,2.2 -2.8,1.9 -3.6,1.6 C-4.5,1.2 -5.3,0.6 -5.4,0.0 C-5.4,-0.6 -4.8,-1.3 -3.9,-1.7 C-3.0,-2.1 -1.3,-2.6 -0.0,-2.6 C1.3,-2.6 3.1,-2.2 4.0,-1.7 C4.9,-1.3 5.3,-0.5 5.3,0.0Z" transform="translate(621.4 351.6) rotate(-58)" fill="#fff" stroke="#1a1a1a" stroke-width="1.9"/>
<path d="M6.2,0.0 C6.2,0.9 5.4,1.9 4.4,2.5 C3.3,3.1 1.4,3.7 0.0,3.6 C-1.4,3.6 -2.9,2.8 -3.8,2.2 C-4.7,1.6 -5.3,0.8 -5.4,0.0 C-5.5,-0.8 -5.3,-1.9 -4.4,-2.5 C-3.5,-3.1 -1.5,-3.4 -0.0,-3.4 C1.5,-3.5 3.7,-3.3 4.8,-2.7 C5.8,-2.1 6.3,-0.9 6.2,0.0Z" transform="translate(567.6 356.7) rotate(-10)" fill="#fff" stroke="#1a1a1a" stroke-width="1.9"/>
<path d="M5.6,0.0 C5.6,0.7 5.0,1.6 4.1,2.1 C3.2,2.6 1.4,2.9 0.0,2.9 C-1.4,3.0 -3.4,2.8 -4.4,2.3 C-5.5,1.8 -6.6,0.7 -6.5,0.0 C-6.4,-0.7 -4.9,-1.5 -3.8,-2.0 C-2.8,-2.5 -1.4,-3.0 -0.0,-3.0 C1.4,-3.1 3.5,-2.8 4.5,-2.3 C5.4,-1.8 5.7,-0.7 5.6,0.0Z" transform="translate(555.7 390.5) rotate(-10)" fill="#fff" stroke="#1a1a1a" stroke-width="1.9"/>
<path d="M5.2,0.0 C5.2,0.7 4.5,1.8 3.7,2.2 C2.8,2.7 1.2,2.7 0.0,2.7 C-1.2,2.7 -2.8,2.6 -3.6,2.2 C-4.4,1.7 -4.8,0.7 -4.8,0.0 C-4.8,-0.7 -4.6,-1.8 -3.8,-2.3 C-3.0,-2.7 -1.3,-2.7 -0.0,-2.7 C1.3,-2.7 2.9,-2.7 3.7,-2.2 C4.6,-1.8 5.2,-0.7 5.2,0.0Z" transform="translate(459.4 404.8) rotate(0)" fill="#fff" stroke="#1a1a1a" stroke-width="1.9"/>
<path d="M6.3,0.0 C6.3,0.7 5.2,1.7 4.1,2.1 C3.1,2.6 1.3,2.7 0.0,2.7 C-1.3,2.7 -2.9,2.4 -3.8,2.0 C-4.8,1.5 -5.4,0.7 -5.5,0.0 C-5.6,-0.7 -5.3,-1.8 -4.4,-2.3 C-3.5,-2.7 -1.4,-2.7 -0.0,-2.7 C1.4,-2.6 2.9,-2.5 3.9,-2.0 C5.0,-1.6 6.2,-0.7 6.3,0.0Z" transform="translate(500.6 424.7) rotate(0)" fill="#fff" stroke="#1a1a1a" stroke-width="1.9"/>
<path d="M5.7,0.0 C5.6,0.8 5.1,1.8 4.2,2.4 C3.2,3.0 1.3,3.7 0.0,3.6 C-1.3,3.6 -2.7,2.7 -3.6,2.1 C-4.5,1.5 -5.4,0.7 -5.4,0.0 C-5.5,-0.7 -4.6,-1.6 -3.7,-2.2 C-2.8,-2.7 -1.3,-3.3 -0.0,-3.4 C1.3,-3.5 3.4,-3.1 4.3,-2.5 C5.2,-1.9 5.7,-0.8 5.7,0.0Z" transform="translate(438.7 450.1) rotate(0)" fill="#fff" stroke="#1a1a1a" stroke-width="1.9"/>
<path d="M6.5,0.0 C6.5,0.9 5.6,2.2 4.5,2.8 C3.4,3.3 1.6,3.4 0.0,3.4 C-1.6,3.4 -3.9,3.5 -4.8,3.0 C-5.7,2.4 -5.4,0.9 -5.3,0.0 C-5.1,-0.9 -4.8,-1.8 -3.9,-2.4 C-3.1,-3.1 -1.4,-3.8 -0.0,-3.8 C1.4,-3.9 3.4,-3.4 4.4,-2.7 C5.5,-2.1 6.5,-0.9 6.5,0.0Z" transform="translate(383.6 465.4) rotate(-15)" fill="#fff" stroke="#1a1a1a" stroke-width="1.9"/>
<path d="M4.7,0.0 C4.7,0.6 4.4,1.4 3.6,1.8 C2.8,2.2 1.1,2.4 0.0,2.4 C-1.1,2.4 -2.5,2.0 -3.3,1.6 C-4.1,1.2 -4.6,0.6 -4.6,0.0 C-4.7,-0.6 -4.2,-1.3 -3.4,-1.7 C-2.6,-2.1 -1.2,-2.2 -0.0,-2.2 C1.2,-2.2 2.8,-2.2 3.6,-1.8 C4.4,-1.5 4.7,-0.6 4.7,0.0Z" transform="translate(409.2 487.4) rotate(-55)" fill="#fff" stroke="#1a1a1a" stroke-width="1.9"/>
<circle cx="613.8" cy="309.5" r="1.25" fill="#505050"/>
<circle cx="624.9" cy="309.5" r="1.25" fill="#505050"/>
<circle cx="617.3" cy="319.9" r="1.25" fill="#505050"/>
<circle cx="615.9" cy="332.3" r="1.25" fill="#505050"/>
<circle cx="640.8" cy="314.3" r="1.25" fill="#505050"/>
<circle cx="634.5" cy="313.7" r="1.25" fill="#505050"/>
<circle cx="634.5" cy="328.2" r="1.25" fill="#505050"/>
<circle cx="635.2" cy="336.5" r="1.25" fill="#505050"/>
<circle cx="662.9" cy="308.8" r="1.25" fill="#505050"/>
<circle cx="663.6" cy="305.4" r="1.25" fill="#505050"/>
<circle cx="678.1" cy="309.5" r="1.25" fill="#505050"/>
<circle cx="649.7" cy="319.9" r="1.25" fill="#505050"/>
<circle cx="668.4" cy="323.3" r="1.25" fill="#505050"/>
<circle cx="678.1" cy="330.2" r="1.25" fill="#505050"/>
<circle cx="664.9" cy="335.8" r="1.25" fill="#505050"/>
<circle cx="647" cy="341.3" r="1.25" fill="#505050"/>
<circle cx="644.9" cy="348.9" r="1.25" fill="#505050"/>
<circle cx="610.4" cy="349.6" r="1.25" fill="#505050"/>
<circle cx="630.4" cy="353" r="1.25" fill="#505050"/>
<circle cx="718.1" cy="308.1" r="1.25" fill="#505050"/>
<circle cx="704.3" cy="313" r="1.25" fill="#505050"/>
<circle cx="718.8" cy="320.6" r="1.25" fill="#505050"/>
<circle cx="702.9" cy="327.5" r="1.25" fill="#505050"/>
<circle cx="725" cy="330.2" r="1.25" fill="#505050"/>
<circle cx="736.1" cy="326.8" r="1.25" fill="#505050"/>
<circle cx="531.9" cy="351.9" r="1.25" fill="#505050"/>
<circle cx="543" cy="350.3" r="1.25" fill="#505050"/>
<circle cx="557.3" cy="351.1" r="1.25" fill="#505050"/>
<circle cx="581.1" cy="351.1" r="1.25" fill="#505050"/>
<circle cx="597.8" cy="349.5" r="1.25" fill="#505050"/>
<circle cx="610.5" cy="349.5" r="1.25" fill="#505050"/>
<circle cx="630.3" cy="352.7" r="1.25" fill="#505050"/>
<circle cx="645.4" cy="348.7" r="1.25" fill="#505050"/>
<circle cx="548.6" cy="357.5" r="1.25" fill="#505050"/>
<circle cx="533.5" cy="363" r="1.25" fill="#505050"/>
<circle cx="582.7" cy="366.2" r="1.25" fill="#505050"/>
<circle cx="607.3" cy="362.2" r="1.25" fill="#505050"/>
<circle cx="549.4" cy="370.2" r="1.25" fill="#505050"/>
<circle cx="560.5" cy="371.7" r="1.25" fill="#505050"/>
<circle cx="579.5" cy="374.9" r="1.25" fill="#505050"/>
<circle cx="601.7" cy="373.3" r="1.25" fill="#505050"/>
<circle cx="623.2" cy="367" r="1.25" fill="#505050"/>
<circle cx="533.5" cy="378.1" r="1.25" fill="#505050"/>
<circle cx="562.1" cy="379.7" r="1.25" fill="#505050"/>
<circle cx="588.3" cy="382.9" r="1.25" fill="#505050"/>
<circle cx="543" cy="384.4" r="1.25" fill="#505050"/>
<circle cx="535.1" cy="394.8" r="1.25" fill="#505050"/>
<circle cx="577.9" cy="391.6" r="1.25" fill="#505050"/>
<circle cx="546.2" cy="402.7" r="1.25" fill="#505050"/>
<circle cx="562.9" cy="401.9" r="1.25" fill="#505050"/>
<circle cx="531.9" cy="405.1" r="1.25" fill="#505050"/>
<circle cx="544.6" cy="413.8" r="1.25" fill="#505050"/>
<circle cx="529.5" cy="416.2" r="1.25" fill="#505050"/>
<circle cx="480.8" cy="400.1" r="1.25" fill="#505050"/>
<circle cx="507.8" cy="398.5" r="1.25" fill="#505050"/>
<circle cx="499" cy="403.3" r="1.25" fill="#505050"/>
<circle cx="519.7" cy="404" r="1.25" fill="#505050"/>
<circle cx="535.6" cy="395.3" r="1.25" fill="#505050"/>
<circle cx="531.6" cy="405.6" r="1.25" fill="#505050"/>
<circle cx="546.7" cy="402.5" r="1.25" fill="#505050"/>
<circle cx="562.5" cy="401.7" r="1.25" fill="#505050"/>
<circle cx="471.3" cy="412" r="1.25" fill="#505050"/>
<circle cx="492.7" cy="414.4" r="1.25" fill="#505050"/>
<circle cx="507" cy="411.2" r="1.25" fill="#505050"/>
<circle cx="514.9" cy="416.7" r="1.25" fill="#505050"/>
<circle cx="530" cy="416.7" r="1.25" fill="#505050"/>
<circle cx="545.1" cy="414.4" r="1.25" fill="#505050"/>
<circle cx="458.6" cy="416.7" r="1.25" fill="#505050"/>
<circle cx="473.7" cy="423.9" r="1.25" fill="#505050"/>
<circle cx="452.2" cy="427.1" r="1.25" fill="#505050"/>
<circle cx="520.5" cy="427.9" r="1.25" fill="#505050"/>
<circle cx="462.5" cy="437.4" r="1.25" fill="#505050"/>
<circle cx="481.6" cy="438.2" r="1.25" fill="#505050"/>
<circle cx="503" cy="436.6" r="1.25" fill="#505050"/>
<circle cx="472.1" cy="446.1" r="1.25" fill="#505050"/>
<circle cx="490.3" cy="445.3" r="1.25" fill="#505050"/>
<circle cx="457" cy="449.3" r="1.25" fill="#505050"/>
<circle cx="473.7" cy="457.2" r="1.25" fill="#505050"/>
<circle cx="454.6" cy="462.8" r="1.25" fill="#505050"/>
<circle cx="374.6" cy="447.5" r="1.25" fill="#505050"/>
<circle cx="386" cy="449.9" r="1.25" fill="#505050"/>
<circle cx="402.6" cy="450.5" r="1.25" fill="#505050"/>
<circle cx="418.1" cy="450.5" r="1.25" fill="#505050"/>
<circle cx="372.9" cy="460.6" r="1.25" fill="#505050"/>
<circle cx="401.4" cy="465.4" r="1.25" fill="#505050"/>
<circle cx="427.6" cy="460" r="1.25" fill="#505050"/>
<circle cx="422.3" cy="469.5" r="1.25" fill="#505050"/>
<circle cx="437.7" cy="466" r="1.25" fill="#505050"/>
<circle cx="455.6" cy="463" r="1.25" fill="#505050"/>
<circle cx="456.8" cy="449.3" r="1.25" fill="#505050"/>
<circle cx="462.7" cy="436.8" r="1.25" fill="#505050"/>
<circle cx="472.3" cy="446.9" r="1.25" fill="#505050"/>
<circle cx="472.9" cy="457" r="1.25" fill="#505050"/>
<circle cx="370.5" cy="479" r="1.25" fill="#505050"/>
<circle cx="387.1" cy="477.9" r="1.25" fill="#505050"/>
<circle cx="402.6" cy="478.5" r="1.25" fill="#505050"/>
<circle cx="417.5" cy="480.2" r="1.25" fill="#505050"/>
<circle cx="437.1" cy="483.2" r="1.25" fill="#505050"/>
<circle cx="447.9" cy="487.4" r="1.25" fill="#505050"/>
<circle cx="380.6" cy="489.8" r="1.25" fill="#505050"/>
<circle cx="393.1" cy="493.1" r="1.25" fill="#505050"/>
<line x1="636" y1="284" x2="636" y2="436" stroke="#a8a8a8" stroke-width="1.8"/>
<line x1="691" y1="282" x2="691" y2="436" stroke="#a8a8a8" stroke-width="1.8"/>
<g fill="none" stroke-linecap="butt">
<line x1="356.5" y1="36" x2="356.5" y2="217" stroke="#acacac" stroke-width="1.9"/>
<line x1="358" y1="44.9" x2="692" y2="44.9" stroke="#c4c4c4" stroke-width="2.6"/>
<line x1="693.5" y1="36" x2="693.5" y2="92" stroke="#bdbdbd" stroke-width="2"/>
<line x1="697" y1="62.8" x2="793" y2="62.8" stroke="#c8c8c8" stroke-width="2.2"/>
<line x1="788" y1="63" x2="788" y2="280" stroke="#c2c2c2" stroke-width="2.2"/>
<line x1="745" y1="280.6" x2="792" y2="280.6" stroke="#cacaca" stroke-width="2.2"/>
<line x1="637" y1="426.4" x2="690" y2="426.4" stroke="#c8c8c8" stroke-width="2.2"/>
</g>
<ellipse cx="363.3" cy="44.6" rx="2.6" ry="1.8" fill="#111"/>
<ellipse cx="688.5" cy="44.7" rx="2.6" ry="1.8" fill="#111"/>
<ellipse cx="641.5" cy="426.4" rx="2.6" ry="1.8" fill="#111"/>
<ellipse cx="686" cy="426.4" rx="2.6" ry="1.8" fill="#111"/>
<path d="M788,63 l-1.6,6 h3.2z" fill="#333"/>
<path d="M788,280 l-1.6,-6 h3.2z" fill="#333"/>
<g font-family="Liberation Sans, sans-serif" font-weight="bold" fill="#000">
<text x="515.5" y="41" font-size="22" textLength="14.2" lengthAdjust="spacingAndGlyphs">A</text>
<text x="767" y="175.1" font-size="21.5" textLength="13" lengthAdjust="spacingAndGlyphs">B</text>
<text x="656" y="415.7" font-size="23.5" textLength="14.2" lengthAdjust="spacingAndGlyphs">C</text>
</g>
<path d="M635.5,283.0 L635.5,266.0 A38.5,38.5 0 0 0 586.4,229.0 L411.8,278.8 A39.3,39.3 0 0 1 382.4,206.4 L628.2,74.4 A39.8,39.8 0 0 1 686.8,109.5 L691.5,281.0" fill="none" stroke="#151515" stroke-width="13.5"/>
<path d="M635.5,283.0 L635.5,266.0 A38.5,38.5 0 0 0 586.4,229.0 L411.8,278.8 A39.3,39.3 0 0 1 382.4,206.4 L628.2,74.4 A39.8,39.8 0 0 1 686.8,109.5 L691.5,281.0" fill="none" stroke="#fff" stroke-width="9.9"/>
<path d="M635.5,283.0 L635.5,266.0 A38.5,38.5 0 0 0 586.4,229.0 L411.8,278.8 A39.3,39.3 0 0 1 382.4,206.4 L628.2,74.4 A39.8,39.8 0 0 1 686.8,109.5 L691.5,281.0" fill="none" stroke="#555" stroke-width="1.4" stroke-dasharray="48 4 2 4"/>
</svg>
<div class="t" style="top:29.8px">A = 1250 mm</div>
<div class="t" style="top:64.9px">B = 800 mm</div>
<div class="t" style="top:99.2px">C = 203 mm</div>
</body></html>
